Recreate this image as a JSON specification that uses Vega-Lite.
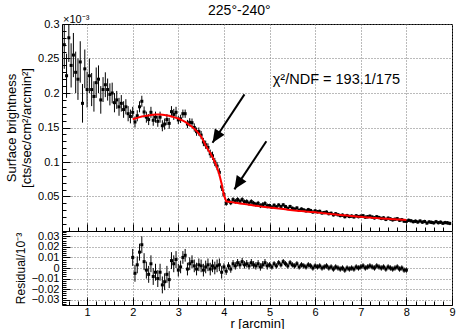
{
  "$schema": "https://vega.github.io/schema/vega-lite/v6.json",
  "autosize": {"type": "pad"},
  "padding": {"left": 5, "top": 3, "right": 0, "bottom": 0},
  "background": "white",
  "bounds": "flush",
  "config": {
    "font": "Liberation Sans",
    "view": {"stroke": "black", "strokeWidth": 1},
    "concat": {"spacing": 0},
    "axis": {
      "labelFont": "Liberation Sans", "titleFont": "Liberation Sans",
      "labelFontSize": 11, "titleFontSize": 13, "titleFontWeight": "normal",
      "labelColor": "black", "titleColor": "black",
      "domain": false, "tickColor": "black", "labelFlush": false, "labelOverlap": false,
      "gridColor": "#777", "gridDash": [1, 2], "gridWidth": 1, "tickSize": -8
    }
  },
  "title": {"text": "225°-240°", "fontSize": 14, "fontWeight": "normal", "font": "Liberation Sans", "anchor": "middle", "dx": 9, "offset": -4, "color": "black"},
  "datasets": {
    "pts": [
      {"r":0.50,"v":0.270,"e":0.035},{"r":0.55,"v":0.225,"e":0.032},{"r":0.60,"v":0.280,"e":0.035},{"r":0.65,"v":0.240,"e":0.032},
      {"r":0.70,"v":0.255,"e":0.032},{"r":0.75,"v":0.230,"e":0.030},{"r":0.80,"v":0.220,"e":0.030},{"r":0.85,"v":0.245,"e":0.030},
      {"r":0.90,"v":0.185,"e":0.028},{"r":0.95,"v":0.235,"e":0.028},{"r":1.00,"v":0.205,"e":0.026},{"r":1.05,"v":0.225,"e":0.025},
      {"r":1.10,"v":0.205,"e":0.024},{"r":1.15,"v":0.195,"e":0.022},{"r":1.20,"v":0.215,"e":0.022},{"r":1.25,"v":0.220,"e":0.020},
      {"r":1.30,"v":0.190,"e":0.020},{"r":1.35,"v":0.205,"e":0.018},{"r":1.40,"v":0.212,"e":0.018},{"r":1.45,"v":0.205,"e":0.016},
      {"r":1.50,"v":0.198,"e":0.016},{"r":1.55,"v":0.200,"e":0.015},{"r":1.60,"v":0.186,"e":0.014},{"r":1.65,"v":0.190,"e":0.013},
      {"r":1.70,"v":0.180,"e":0.013},{"r":1.75,"v":0.185,"e":0.012},{"r":1.80,"v":0.176,"e":0.012},{"r":1.85,"v":0.180,"e":0.011},
      {"r":1.90,"v":0.170,"e":0.011},{"r":1.95,"v":0.166,"e":0.010},
      {"r":2.00,"v":0.172,"e":0.008},{"r":2.05,"v":0.158,"e":0.008},{"r":2.10,"v":0.167,"e":0.008},{"r":2.15,"v":0.180,"e":0.008},
      {"r":2.20,"v":0.188,"e":0.008},{"r":2.25,"v":0.1725,"e":0.008},{"r":2.30,"v":0.165,"e":0.008},{"r":2.35,"v":0.1615,"e":0.008},
      {"r":2.40,"v":0.172,"e":0.008},{"r":2.45,"v":0.1605,"e":0.008},{"r":2.50,"v":0.165,"e":0.008},{"r":2.55,"v":0.159,"e":0.008},
      {"r":2.60,"v":0.165,"e":0.008},{"r":2.65,"v":0.1525,"e":0.008},{"r":2.70,"v":0.155,"e":0.008},{"r":2.75,"v":0.1615,"e":0.008},
      {"r":2.80,"v":0.156,"e":0.008},{"r":2.85,"v":0.173,"e":0.008},{"r":2.90,"v":0.169,"e":0.008},{"r":2.95,"v":0.172,"e":0.008},
      {"r":3.00,"v":0.161,"e":0.006},{"r":3.05,"v":0.1625,"e":0.006},{"r":3.10,"v":0.170,"e":0.006},{"r":3.15,"v":0.170,"e":0.006},
      {"r":3.20,"v":0.155,"e":0.006},{"r":3.25,"v":0.1575,"e":0.006},{"r":3.30,"v":0.157,"e":0.006},{"r":3.35,"v":0.150,"e":0.006},
      {"r":3.40,"v":0.144,"e":0.006},{"r":3.45,"v":0.144,"e":0.006},{"r":3.50,"v":0.139,"e":0.006},{"r":3.55,"v":0.129,"e":0.006},
      {"r":3.60,"v":0.125,"e":0.006},{"r":3.65,"v":0.121,"e":0.006},{"r":3.70,"v":0.112,"e":0.006},{"r":3.75,"v":0.109,"e":0.006},
      {"r":3.80,"v":0.100,"e":0.006},{"r":3.85,"v":0.094,"e":0.006},{"r":3.90,"v":0.085,"e":0.006},{"r":3.95,"v":0.064,"e":0.006},
      {"r":4.00,"v":0.053,"e":0.0035},{"r":4.05,"v":0.040,"e":0.0035},{"r":4.10,"v":0.0445,"e":0.0035},{"r":4.15,"v":0.041,"e":0.0035},
      {"r":4.20,"v":0.0455,"e":0.0035},{"r":4.25,"v":0.043,"e":0.0035},{"r":4.30,"v":0.0455,"e":0.0035},{"r":4.35,"v":0.043,"e":0.0035},
      {"r":4.40,"v":0.0455,"e":0.0035},{"r":4.45,"v":0.042,"e":0.0035},{"r":4.50,"v":0.0426,"e":0.0035},{"r":4.55,"v":0.0401,"e":0.0035},
      {"r":4.60,"v":0.0426,"e":0.0035},{"r":4.65,"v":0.0401,"e":0.0035},{"r":4.70,"v":0.0386,"e":0.0035},{"r":4.75,"v":0.0401,"e":0.0035},
      {"r":4.80,"v":0.0367,"e":0.0035},{"r":4.85,"v":0.0382,"e":0.0035},{"r":4.90,"v":0.0398,"e":0.0035},{"r":4.95,"v":0.0364,"e":0.0035},
      {"r":5.00,"v":0.0370,"e":0.0025},{"r":5.05,"v":0.0347,"e":0.0025},{"r":5.10,"v":0.0374,"e":0.0025},{"r":5.15,"v":0.0350,"e":0.0025},
      {"r":5.20,"v":0.0377,"e":0.0025},{"r":5.25,"v":0.0354,"e":0.0025},{"r":5.30,"v":0.0379,"e":0.0025},{"r":5.35,"v":0.0354,"e":0.0025},
      {"r":5.40,"v":0.0329,"e":0.0025},{"r":5.45,"v":0.0355,"e":0.0025},{"r":5.50,"v":0.0330,"e":0.0025},{"r":5.55,"v":0.0317,"e":0.0025},
      {"r":5.60,"v":0.0334,"e":0.0025},{"r":5.65,"v":0.0301,"e":0.0025},{"r":5.70,"v":0.0318,"e":0.0025},{"r":5.75,"v":0.0305,"e":0.0025},
      {"r":5.80,"v":0.0292,"e":0.0025},{"r":5.85,"v":0.0310,"e":0.0025},{"r":5.90,"v":0.0297,"e":0.0025},{"r":5.95,"v":0.0275,"e":0.0025},
      {"r":6.00,"v":0.0292,"e":0.0025},{"r":6.05,"v":0.0278,"e":0.0025},{"r":6.10,"v":0.0285,"e":0.0025},{"r":6.15,"v":0.0261,"e":0.0025},
      {"r":6.20,"v":0.0268,"e":0.0025},{"r":6.25,"v":0.0274,"e":0.0025},{"r":6.30,"v":0.0251,"e":0.0025},{"r":6.35,"v":0.0257,"e":0.0025},
      {"r":6.40,"v":0.0234,"e":0.0025},{"r":6.45,"v":0.0250,"e":0.0025},{"r":6.50,"v":0.0236,"e":0.0025},{"r":6.55,"v":0.0223,"e":0.0025},
      {"r":6.60,"v":0.0230,"e":0.0025},{"r":6.65,"v":0.0207,"e":0.0025},{"r":6.70,"v":0.0224,"e":0.0025},{"r":6.75,"v":0.0210,"e":0.0025},
      {"r":6.80,"v":0.0217,"e":0.0025},{"r":6.85,"v":0.0204,"e":0.0025},{"r":6.90,"v":0.0221,"e":0.0025},{"r":6.95,"v":0.0208,"e":0.0025},
      {"r":7.00,"v":0.0215,"e":0.0025},{"r":7.05,"v":0.0222,"e":0.0025},{"r":7.10,"v":0.0200,"e":0.0025},{"r":7.15,"v":0.0207,"e":0.0025},
      {"r":7.20,"v":0.0215,"e":0.0025},{"r":7.25,"v":0.0202,"e":0.0025},{"r":7.30,"v":0.0190,"e":0.0025},{"r":7.35,"v":0.0207,"e":0.0025},
      {"r":7.40,"v":0.0195,"e":0.0025},{"r":7.45,"v":0.0182,"e":0.0025},{"r":7.50,"v":0.0190,"e":0.0025},{"r":7.55,"v":0.0168,"e":0.0025},
      {"r":7.60,"v":0.0186,"e":0.0025},{"r":7.65,"v":0.0174,"e":0.0025},{"r":7.70,"v":0.0162,"e":0.0025},{"r":7.75,"v":0.0170,"e":0.0025},
      {"r":7.80,"v":0.0178,"e":0.0025},{"r":7.85,"v":0.0156,"e":0.0025},{"r":7.90,"v":0.0164,"e":0.0025},{"r":7.95,"v":0.0142,"e":0.0025},
      {"r":8.00,"v":0.0140,"e":0.0025},{"r":8.05,"v":0.0155,"e":0.0025},{"r":8.10,"v":0.0148,"e":0.0025},{"r":8.15,"v":0.0135,"e":0.0025},
      {"r":8.20,"v":0.0142,"e":0.0025},{"r":8.25,"v":0.0130,"e":0.0025},{"r":8.30,"v":0.0145,"e":0.0025},{"r":8.35,"v":0.0128,"e":0.0025},
      {"r":8.40,"v":0.0138,"e":0.0025},{"r":8.45,"v":0.0115,"e":0.0025},{"r":8.50,"v":0.0132,"e":0.0025},{"r":8.55,"v":0.0125,"e":0.0025},
      {"r":8.60,"v":0.0118,"e":0.0025},{"r":8.65,"v":0.0135,"e":0.0025},{"r":8.70,"v":0.0120,"e":0.0025},{"r":8.75,"v":0.0128,"e":0.0025},
      {"r":8.80,"v":0.0112,"e":0.0025},{"r":8.85,"v":0.0122,"e":0.0025},{"r":8.90,"v":0.0118,"e":0.0025},{"r":8.95,"v":0.0110,"e":0.0025}
    ],
    "fit": [
      {"r":2.00,"v":0.1620},{"r":2.05,"v":0.1630},{"r":2.10,"v":0.1640},{"r":2.15,"v":0.1650},{"r":2.20,"v":0.1660},{"r":2.25,"v":0.1665},
      {"r":2.30,"v":0.1670},{"r":2.35,"v":0.1675},{"r":2.40,"v":0.1680},{"r":2.45,"v":0.1685},{"r":2.50,"v":0.1690},{"r":2.55,"v":0.1690},
      {"r":2.60,"v":0.1690},{"r":2.65,"v":0.1685},{"r":2.70,"v":0.1680},{"r":2.75,"v":0.1675},{"r":2.80,"v":0.1670},{"r":2.85,"v":0.1660},
      {"r":2.90,"v":0.1650},{"r":2.95,"v":0.1640},{"r":3.00,"v":0.1630},{"r":3.05,"v":0.1615},{"r":3.10,"v":0.1600},{"r":3.15,"v":0.1580},
      {"r":3.20,"v":0.1560},{"r":3.25,"v":0.1535},{"r":3.30,"v":0.1510},{"r":3.35,"v":0.1480},{"r":3.40,"v":0.1450},{"r":3.45,"v":0.1410},
      {"r":3.50,"v":0.1370},{"r":3.55,"v":0.1310},{"r":3.60,"v":0.1240},{"r":3.65,"v":0.1180},{"r":3.70,"v":0.1130},{"r":3.75,"v":0.1070},
      {"r":3.80,"v":0.1000},{"r":3.85,"v":0.0920},{"r":3.90,"v":0.0820},{"r":3.95,"v":0.0680},{"r":4.00,"v":0.0520},{"r":4.05,"v":0.0430},
      {"r":4.10,"v":0.0425},{"r":4.15,"v":0.0420},{"r":4.20,"v":0.0415},{"r":4.25,"v":0.0410},{"r":4.30,"v":0.0405},{"r":4.35,"v":0.0400},
      {"r":4.40,"v":0.0395},{"r":4.45,"v":0.0390},{"r":4.50,"v":0.0386},{"r":4.55,"v":0.0381},{"r":4.60,"v":0.0376},{"r":4.65,"v":0.0371},
      {"r":4.70,"v":0.0366},{"r":4.75,"v":0.0361},{"r":4.80,"v":0.0357},{"r":4.85,"v":0.0352},{"r":4.90,"v":0.0348},{"r":4.95,"v":0.0344},
      {"r":5.00,"v":0.0340},{"r":5.05,"v":0.0337},{"r":5.10,"v":0.0334},{"r":5.15,"v":0.0330},{"r":5.20,"v":0.0327},{"r":5.25,"v":0.0324},
      {"r":5.30,"v":0.0319},{"r":5.35,"v":0.0314},{"r":5.40,"v":0.0309},{"r":5.45,"v":0.0305},{"r":5.50,"v":0.0300},{"r":5.55,"v":0.0297},
      {"r":5.60,"v":0.0294},{"r":5.65,"v":0.0291},{"r":5.70,"v":0.0288},{"r":5.75,"v":0.0285},{"r":5.80,"v":0.0282},{"r":5.85,"v":0.0280},
      {"r":5.90,"v":0.0277},{"r":5.95,"v":0.0275},{"r":6.00,"v":0.0272},{"r":6.05,"v":0.0268},{"r":6.10,"v":0.0265},{"r":6.15,"v":0.0261},
      {"r":6.20,"v":0.0258},{"r":6.25,"v":0.0254},{"r":6.30,"v":0.0251},{"r":6.35,"v":0.0247},{"r":6.40,"v":0.0244},{"r":6.45,"v":0.0240},
      {"r":6.50,"v":0.0236},{"r":6.55,"v":0.0233},{"r":6.60,"v":0.0230},{"r":6.65,"v":0.0227},{"r":6.70,"v":0.0224},{"r":6.75,"v":0.0220},
      {"r":6.80,"v":0.0217},{"r":6.85,"v":0.0214},{"r":6.90,"v":0.0211},{"r":6.95,"v":0.0208},{"r":7.00,"v":0.0205},{"r":7.05,"v":0.0202},
      {"r":7.10,"v":0.0200},{"r":7.15,"v":0.0197},{"r":7.20,"v":0.0195},{"r":7.25,"v":0.0192},{"r":7.30,"v":0.0190},{"r":7.35,"v":0.0187},
      {"r":7.40,"v":0.0185},{"r":7.45,"v":0.0182},{"r":7.50,"v":0.0180},{"r":7.55,"v":0.0178},{"r":7.60,"v":0.0176},{"r":7.65,"v":0.0174},
      {"r":7.70,"v":0.0172},{"r":7.75,"v":0.0170},{"r":7.80,"v":0.0168},{"r":7.85,"v":0.0166},{"r":7.90,"v":0.0164},{"r":7.95,"v":0.0162},
      {"r":8.00,"v":0.0160}
    ],
    "res": [
      {"r":2.00,"d":0.010,"e":0.008},{"r":2.05,"d":-0.005,"e":0.008},{"r":2.10,"d":0.003,"e":0.008},{"r":2.15,"d":0.015,"e":0.008},
      {"r":2.20,"d":0.022,"e":0.008},{"r":2.25,"d":0.006,"e":0.008},{"r":2.30,"d":-0.002,"e":0.008},{"r":2.35,"d":-0.006,"e":0.008},
      {"r":2.40,"d":0.004,"e":0.008},{"r":2.45,"d":-0.008,"e":0.008},{"r":2.50,"d":-0.004,"e":0.008},{"r":2.55,"d":-0.010,"e":0.008},
      {"r":2.60,"d":-0.004,"e":0.008},{"r":2.65,"d":-0.016,"e":0.008},{"r":2.70,"d":-0.013,"e":0.008},{"r":2.75,"d":-0.006,"e":0.008},
      {"r":2.80,"d":-0.011,"e":0.008},{"r":2.85,"d":0.007,"e":0.008},{"r":2.90,"d":0.004,"e":0.008},{"r":2.95,"d":0.008,"e":0.008},
      {"r":3.00,"d":-0.002,"e":0.006},{"r":3.05,"d":0.001,"e":0.006},{"r":3.10,"d":0.010,"e":0.006},{"r":3.15,"d":0.012,"e":0.006},
      {"r":3.20,"d":-0.001,"e":0.006},{"r":3.25,"d":0.004,"e":0.006},{"r":3.30,"d":0.006,"e":0.006},{"r":3.35,"d":0.002,"e":0.006},
      {"r":3.40,"d":-0.001,"e":0.006},{"r":3.45,"d":0.003,"e":0.006},{"r":3.50,"d":0.002,"e":0.006},{"r":3.55,"d":-0.002,"e":0.006},
      {"r":3.60,"d":0.001,"e":0.006},{"r":3.65,"d":0.003,"e":0.006},{"r":3.70,"d":-0.001,"e":0.006},{"r":3.75,"d":0.002,"e":0.006},
      {"r":3.80,"d":0.000,"e":0.006},{"r":3.85,"d":0.002,"e":0.006},{"r":3.90,"d":0.003,"e":0.006},{"r":3.95,"d":-0.004,"e":0.006},
      {"r":4.00,"d":0.001,"e":0.0035},{"r":4.05,"d":-0.003,"e":0.0035},{"r":4.10,"d":0.002,"e":0.0035},{"r":4.15,"d":-0.001,"e":0.0035},
      {"r":4.20,"d":0.004,"e":0.0035},{"r":4.25,"d":0.002,"e":0.0035},{"r":4.30,"d":0.005,"e":0.0035},{"r":4.35,"d":0.003,"e":0.0035},
      {"r":4.40,"d":0.006,"e":0.0035},{"r":4.45,"d":0.003,"e":0.0035},{"r":4.50,"d":0.004,"e":0.0035},{"r":4.55,"d":0.002,"e":0.0035},
      {"r":4.60,"d":0.005,"e":0.0035},{"r":4.65,"d":0.003,"e":0.0035},{"r":4.70,"d":0.002,"e":0.0035},{"r":4.75,"d":0.004,"e":0.0035},
      {"r":4.80,"d":0.001,"e":0.0035},{"r":4.85,"d":0.003,"e":0.0035},{"r":4.90,"d":0.005,"e":0.0035},{"r":4.95,"d":0.002,"e":0.0035},
      {"r":5.00,"d":0.003,"e":0.0025},{"r":5.05,"d":0.001,"e":0.0025},{"r":5.10,"d":0.004,"e":0.0025},{"r":5.15,"d":0.002,"e":0.0025},
      {"r":5.20,"d":0.005,"e":0.0025},{"r":5.25,"d":0.003,"e":0.0025},{"r":5.30,"d":0.006,"e":0.0025},{"r":5.35,"d":0.004,"e":0.0025},
      {"r":5.40,"d":0.002,"e":0.0025},{"r":5.45,"d":0.005,"e":0.0025},{"r":5.50,"d":0.003,"e":0.0025},{"r":5.55,"d":0.002,"e":0.0025},
      {"r":5.60,"d":0.004,"e":0.0025},{"r":5.65,"d":0.001,"e":0.0025},{"r":5.70,"d":0.003,"e":0.0025},{"r":5.75,"d":0.002,"e":0.0025},
      {"r":5.80,"d":0.001,"e":0.0025},{"r":5.85,"d":0.003,"e":0.0025},{"r":5.90,"d":0.002,"e":0.0025},{"r":5.95,"d":0.000,"e":0.0025},
      {"r":6.00,"d":0.002,"e":0.0025},{"r":6.05,"d":0.001,"e":0.0025},{"r":6.10,"d":0.002,"e":0.0025},{"r":6.15,"d":0.000,"e":0.0025},
      {"r":6.20,"d":0.001,"e":0.0025},{"r":6.25,"d":0.002,"e":0.0025},{"r":6.30,"d":0.000,"e":0.0025},{"r":6.35,"d":0.001,"e":0.0025},
      {"r":6.40,"d":-0.001,"e":0.0025},{"r":6.45,"d":0.001,"e":0.0025},{"r":6.50,"d":0.000,"e":0.0025},{"r":6.55,"d":-0.001,"e":0.0025},
      {"r":6.60,"d":0.000,"e":0.0025},{"r":6.65,"d":-0.002,"e":0.0025},{"r":6.70,"d":0.000,"e":0.0025},{"r":6.75,"d":-0.001,"e":0.0025},
      {"r":6.80,"d":0.000,"e":0.0025},{"r":6.85,"d":-0.001,"e":0.0025},{"r":6.90,"d":0.001,"e":0.0025},{"r":6.95,"d":0.000,"e":0.0025},
      {"r":7.00,"d":0.001,"e":0.0025},{"r":7.05,"d":0.002,"e":0.0025},{"r":7.10,"d":0.000,"e":0.0025},{"r":7.15,"d":0.001,"e":0.0025},
      {"r":7.20,"d":0.002,"e":0.0025},{"r":7.25,"d":0.001,"e":0.0025},{"r":7.30,"d":0.000,"e":0.0025},{"r":7.35,"d":0.002,"e":0.0025},
      {"r":7.40,"d":0.001,"e":0.0025},{"r":7.45,"d":0.000,"e":0.0025},{"r":7.50,"d":0.001,"e":0.0025},{"r":7.55,"d":-0.001,"e":0.0025},
      {"r":7.60,"d":0.001,"e":0.0025},{"r":7.65,"d":0.000,"e":0.0025},{"r":7.70,"d":-0.001,"e":0.0025},{"r":7.75,"d":0.000,"e":0.0025},
      {"r":7.80,"d":0.001,"e":0.0025},{"r":7.85,"d":-0.001,"e":0.0025},{"r":7.90,"d":0.000,"e":0.0025},{"r":7.95,"d":-0.002,"e":0.0025},
      {"r":8.00,"d":-0.002,"e":0.0025}
    ],
    "arrows": [
      {"r":3.75,"v":0.128,"r2":4.45,"v2":0.198},
      {"r":4.23,"v":0.0604,"r2":4.93,"v2":0.130}
    ],
    "stat": [{"r":5.07,"v":0.213,"label":"χ²/NDF = 193.1/175"}],
    "exp": [{"r":0.45,"v":0.3,"label":"×10⁻³"}]
  },
  "vconcat": [
    {
      "width": 390,
      "height": 207,
      "encoding": {
        "x": {
          "field": "r", "type": "quantitative",
          "scale": {"domain": [0.45, 9], "nice": false, "zero": false},
          "axis": {
            "title": null, "labels": false, "grid": true,
            "values": [0.6,0.8,1,1.2,1.4,1.6,1.8,2,2.2,2.4,2.6,2.8,3,3.2,3.4,3.6,3.8,4,4.2,4.4,4.6,4.8,5,5.2,5.4,5.6,5.8,6,6.2,6.4,6.6,6.8,7,7.2,7.4,7.6,7.8,8,8.2,8.4,8.6,8.8,9],
            "tickDash": {"condition": {"test": "datum.value % 1 === 0", "value": [7, 0]}, "value": [4, 20]},
            "gridOpacity": {"condition": {"test": "datum.value % 1 === 0", "value": 1}, "value": 0}
          }
        },
        "y": {
          "field": "v", "type": "quantitative",
          "scale": {"domain": [0, 0.3], "nice": false, "zero": false},
          "axis": {
            "title": ["Surface brightness", "[cts/sec/cm²/arcmin²]"],
            "titlePadding": 4, "titleLineHeight": 15, "grid": true, "labelPadding": 11,
            "values": [0,0.01,0.02,0.03,0.04,0.05,0.06,0.07,0.08,0.09,0.1,0.11,0.12,0.13,0.14,0.15,0.16,0.17,0.18,0.19,0.2,0.21,0.22,0.23,0.24,0.25,0.26,0.27,0.28,0.29,0.3],
            "labelExpr": "abs(datum.value*20 - round(datum.value*20)) < 0.001 && datum.value > 0 ? format(datum.value, '~g') : ''",
            "tickDash": {"condition": {"test": "abs(datum.value*20 - round(datum.value*20)) < 0.001", "value": [8, 0]}, "value": [4, 20]},
            "gridOpacity": {"condition": {"test": "abs(datum.value*20 - round(datum.value*20)) < 0.001", "value": 1}, "value": 0}
          }
        }
      },
      "layer": [
        {
          "data": {"name": "pts"},
          "mark": {"type": "errorbar", "color": "black", "thickness": 1, "clip": true},
          "encoding": {"yError": {"field": "e"}}
        },
        {
          "data": {"name": "pts"},
          "mark": {"type": "square", "color": "black", "size": 9, "opacity": 1, "clip": true}
        },
        {
          "data": {"name": "fit"},
          "mark": {"type": "line", "color": "#ff0000", "strokeWidth": 2}
        },
        {
          "data": {"name": "arrows"},
          "mark": {"type": "rule", "color": "black", "strokeWidth": 2},
          "encoding": {"x2": {"field": "r2"}, "y2": {"field": "v2"}}
        },
        {
          "data": {"name": "arrows"},
          "mark": {"type": "point", "shape": "M0,0 L0.75,1.7 L-0.75,1.7 Z", "filled": true, "color": "black", "opacity": 1, "size": 240, "angle": 213}
        },
        {
          "data": {"name": "stat"},
          "mark": {"type": "text", "align": "left", "baseline": "alphabetic", "fontSize": 14.5, "color": "black"},
          "encoding": {"text": {"field": "label"}}
        },
        {
          "data": {"name": "exp"},
          "mark": {"type": "text", "align": "left", "baseline": "alphabetic", "fontSize": 11, "color": "black", "dx": 1, "dy": -1},
          "encoding": {"text": {"field": "label"}}
        }
      ]
    },
    {
      "width": 390,
      "height": 74,
      "data": {"name": "res"},
      "encoding": {
        "x": {
          "field": "r", "type": "quantitative",
          "scale": {"domain": [0.45, 9], "nice": false, "zero": false},
          "axis": {
            "title": "r [arcmin]", "titlePadding": 0, "grid": true, "labelPadding": 9,
            "values": [0.6,0.8,1,1.2,1.4,1.6,1.8,2,2.2,2.4,2.6,2.8,3,3.2,3.4,3.6,3.8,4,4.2,4.4,4.6,4.8,5,5.2,5.4,5.6,5.8,6,6.2,6.4,6.6,6.8,7,7.2,7.4,7.6,7.8,8,8.2,8.4,8.6,8.8,9],
            "labelExpr": "datum.value % 1 === 0 ? format(datum.value, 'd') : ''",
            "tickDash": {"condition": {"test": "datum.value % 1 === 0", "value": [7, 0]}, "value": [4, 20]},
            "gridOpacity": {"condition": {"test": "datum.value % 1 === 0", "value": 1}, "value": 0}
          }
        },
        "y": {
          "field": "d", "type": "quantitative",
          "scale": {"domain": [-0.035, 0.035], "nice": false, "zero": false},
          "axis": {
            "title": "Residual/10⁻³", "titleFontSize": 12, "titlePadding": 4, "grid": true, "labelPadding": 11,
            "values": [-0.034,-0.032,-0.03,-0.028,-0.026,-0.024,-0.022,-0.02,-0.018,-0.016,-0.014,-0.012,-0.01,-0.008,-0.006,-0.004,-0.002,0,0.002,0.004,0.006,0.008,0.01,0.012,0.014,0.016,0.018,0.02,0.022,0.024,0.026,0.028,0.03,0.032,0.034],
            "labelExpr": "abs(datum.value*100 - round(datum.value*100)) < 0.001 ? format(datum.value, '~g') : ''",
            "tickDash": {"condition": {"test": "abs(datum.value*100 - round(datum.value*100)) < 0.001", "value": [8, 0]}, "value": [4, 20]},
            "gridOpacity": {"condition": {"test": "abs(datum.value*100 - round(datum.value*100)) < 0.001", "value": 1}, "value": 0}
          }
        }
      },
      "layer": [
        {
          "mark": {"type": "errorbar", "color": "black", "thickness": 1, "clip": true},
          "encoding": {"yError": {"field": "e"}}
        },
        {
          "mark": {"type": "square", "color": "black", "size": 9, "opacity": 1, "clip": true}
        }
      ]
    }
  ]
}
